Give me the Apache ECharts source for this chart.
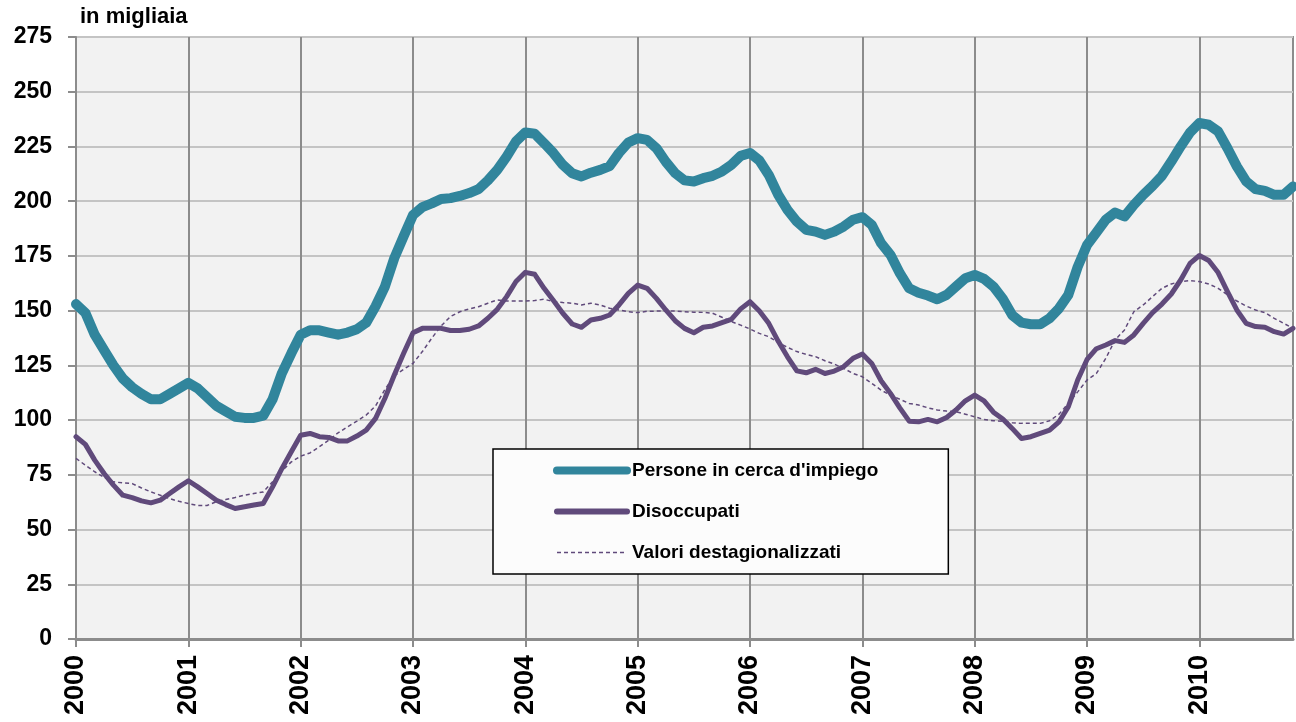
<!DOCTYPE html>
<html>
<head>
<meta charset="utf-8">
<script src="https://cdn.jsdelivr.net/npm/echarts@6/dist/echarts.min.js"></script>
<style>
  html, body { margin: 0; padding: 0; background: #fff; }
  #main { width: 1296px; height: 722px; }
</style>
</head>
<body>
<div id="main"></div>
<script>
// anni mostrati sull'asse x (una etichetta a gennaio di ogni anno)
var years = ['2000', '2001', '2002', '2003', '2004', '2005', '2006', '2007', '2008', '2009', '2010'];
var lastYearMonths = 11; // gen-nov 2010

// Persone in cerca d'impiego (migliaia, dati mensili)
var persone = [
  153, 149, 139, 132, 125, 119, 115, 112, 109.5, 109.5, 112, 114.5,
  117, 114.5, 110.5, 106.5, 104, 101.5, 101, 101, 102, 109.5, 121.5, 130.5,
  139, 141, 141, 140, 139, 140, 141.5, 144.5, 152, 161, 174, 184,
  193.7, 197.3, 199, 201, 201.4, 202.4, 203.7, 205.5, 209.5, 214.3, 220.4, 227.3,
  231.4, 230.8, 226.5, 222, 216.6, 212.8, 211.3, 213, 214.3, 216, 222, 226.8,
  228.8, 228, 224.2, 218, 212.8, 209.5, 209, 210.5, 211.6, 213.6, 216.6, 220.7,
  222, 218.6, 212, 203, 196, 190.7, 186.9, 186.1, 184.6, 186.1, 188.4, 191.5,
  192.7, 189.2, 180.8, 175.5, 167.1, 160.2, 158.2, 156.9, 155.2, 157.2, 161, 164.8,
  166.3, 164.5, 161, 155.4, 148, 144.5, 143.8, 143.8, 146.5, 151, 157.2, 170,
  180, 185.7, 191.5, 194.8, 193, 198.3, 202.9, 207, 211.6, 218.1, 225, 231.4,
  235.7, 234.9, 231.9, 224.2, 215.9, 209, 205.5, 204.7, 202.9, 202.9, 206.7
];

// Disoccupati
var disoccupati = [
  92.4, 88.9, 81.7, 75.6, 70.3, 65.7, 64.6, 63.1, 62.2, 63.4, 66.5, 69.5,
  72.3, 69.5, 66.5, 63.4, 61.4, 59.6, 60.4, 61.2, 61.9, 69.5, 77.9, 85.5,
  93.1, 93.9, 92.4, 92.1, 90.5, 90.5, 92.7, 95.4, 100.8, 110, 120.6, 130.5,
  139.9, 141.9, 141.9, 141.9, 140.9, 140.9, 141.5, 143, 146.5, 150.6, 156.4, 163.3,
  167.5, 166.6, 160.2, 154.6, 148.8, 143.9, 142.4, 145.7, 146.5, 148, 152.6, 157.9,
  161.7, 160.2, 155.6, 150.3, 145.4, 141.9, 139.9, 142.4, 143, 144.5, 146, 150.8,
  154.1, 149.8, 144.2, 136.1, 128.9, 122.5, 121.6, 123.2, 121.3, 122.4, 124.4, 128.2,
  130.2, 125.9, 118, 112.2, 105.6, 99.5, 99.2, 100.3, 99.2, 101.2, 104.6, 108.8,
  111.4, 108.8, 103.6, 100.5, 96.2, 91.6, 92.4, 93.9, 95.4, 99.2, 106.1, 118.3,
  127.7, 132.6, 134.3, 136.3, 135.5, 138.9, 144.2, 149.1, 153, 157.6, 164, 171.6,
  175.2, 172.9, 167.4, 158.7, 150.3, 144.2, 142.7, 142.4, 140.4, 139.3, 141.9
];

// Valori destagionalizzati (disoccupati)
var destag = [
  82.5, 79.4, 76.4, 73.8, 71.8, 71.3, 71, 69, 67.2, 65.7, 64.1, 62.9,
  61.9, 61, 61, 62.7, 63.7, 64.6, 65.7, 66.5, 67.2, 71.8, 76.8, 80.9,
  83.5, 85, 87.8, 90.8, 94.2, 96.9, 99.5, 102.3, 106.5, 114, 120.3, 123.2,
  125.9, 131.3, 137.4, 143, 147.3, 149.5, 150.8, 151.8, 153.4, 154.9, 154.4, 154.4,
  154.4, 154.6, 155.2, 154.1, 153.7, 153.4, 152.6, 153.4, 152.6, 151.1, 150.3, 149.5,
  149.1, 149.7, 149.8, 149.8, 149.8, 149.5, 149.3, 149.2, 148.8, 147, 145, 143.4,
  141.6, 139.6, 138.1, 135.5, 133.2, 131.3, 130, 129, 127.1, 125.6, 123.6, 121.3,
  119.8, 116.8, 113.7, 111.4, 109.5, 107.6, 106.9, 105.6, 104.6, 104.1, 103.8, 102.7,
  101.5, 100.3, 99.7, 99.5, 98.8, 98.5, 98.5, 98.5, 99.7, 102.7, 107.6, 112.9,
  118.3, 121.3, 128.2, 136.6, 141.2, 149.5, 152.6, 156.4, 160.2, 162.2, 163.3, 163.7,
  163.3, 162.2, 160.2, 157.2, 154.4, 152.1, 150.3, 149.1, 146.5, 144.2, 141.9
];

// categorie mensili "AAAA-MM"
var mesi = [];
years.forEach(function (y, i) {
  var n = i === years.length - 1 ? lastYearMonths : 12;
  for (var m = 1; m <= n; m++) mesi.push(y + '-' + (m < 10 ? '0' + m : m));
});

var FONT = "'Liberation Sans', Arial, sans-serif";
var TEAL = '#31859C';
var VIOLA = '#604A7B';
var isJan = function (idx) { return idx % 12 === 0; };

var chart = echarts.init(document.getElementById('main'));

var option = {
  animation: false,
  textStyle: { fontFamily: FONT },
  grid: {
    left: 76, right: 3, top: 37, bottom: 83,
    show: true,
    backgroundColor: '#F2F2F2',
    borderColor: '#8C8C8C',
    borderWidth: 2
  },
  graphic: [{
    type: 'text',
    left: 80, top: 6,
    style: { text: 'in migliaia', font: 'bold 22px ' + FONT, fill: '#000' }
  }],
  legend: {
    orient: 'vertical',
    left: 493, top: 449,
    padding: [12, 70, 12, 60],
    itemGap: 22,
    itemWidth: 70,
    itemHeight: 14,
    backgroundColor: '#FCFCFC',
    borderColor: '#000',
    borderWidth: 1.5,
    itemStyle: { opacity: 0 },
    textStyle: { fontFamily: FONT, fontWeight: 'bold', fontSize: 19, color: '#000' },
    data: [
      { name: "Persone in cerca d'impiego", lineStyle: { color: TEAL, width: 8 } },
      { name: 'Disoccupati', lineStyle: { color: VIOLA, width: 6 } },
      { name: 'Valori destagionalizzati', lineStyle: { color: VIOLA, width: 1.5, type: [4, 3] } }
    ]
  },
  xAxis: {
    type: 'category',
    data: mesi,
    boundaryGap: false,
    axisLine: { lineStyle: { color: '#8C8C8C', width: 3 } },
    axisTick: { interval: isJan, length: 8, lineStyle: { color: '#8C8C8C', width: 2 } },
    axisLabel: {
      interval: isJan,
      rotate: 90,
      margin: 16,
      formatter: function (v) { return v.slice(0, 4); },
      fontFamily: FONT, fontWeight: 'bold', fontSize: 27, color: '#000'
    },
    splitLine: { show: true, interval: isJan, lineStyle: { color: '#8C8C8C', width: 2 } }
  },
  yAxis: {
    type: 'value',
    min: 0, max: 275, interval: 25,
    axisLine: { show: true, lineStyle: { color: '#8C8C8C', width: 2 } },
    axisTick: { show: true, length: 8, lineStyle: { color: '#8C8C8C', width: 2 } },
    axisLabel: { margin: 24, fontFamily: FONT, fontWeight: 'bold', fontSize: 23, color: '#000' },
    splitLine: { lineStyle: { color: '#C4C4C4', width: 2 } }
  },
  series: [
    {
      name: "Persone in cerca d'impiego",
      type: 'line',
      data: persone,
      symbol: 'none',
      lineStyle: { color: TEAL, width: 10, join: 'round', cap: 'round' },
      itemStyle: { color: TEAL }
    },
    {
      name: 'Disoccupati',
      type: 'line',
      data: disoccupati,
      symbol: 'none',
      lineStyle: { color: VIOLA, width: 5, join: 'round', cap: 'round' },
      itemStyle: { color: VIOLA }
    },
    {
      name: 'Valori destagionalizzati',
      type: 'line',
      data: destag,
      symbol: 'none',
      lineStyle: { color: VIOLA, width: 1.5, type: [4, 3] },
      itemStyle: { color: VIOLA }
    }
  ]
};

chart.setOption(option);
</script>
</body>
</html>
